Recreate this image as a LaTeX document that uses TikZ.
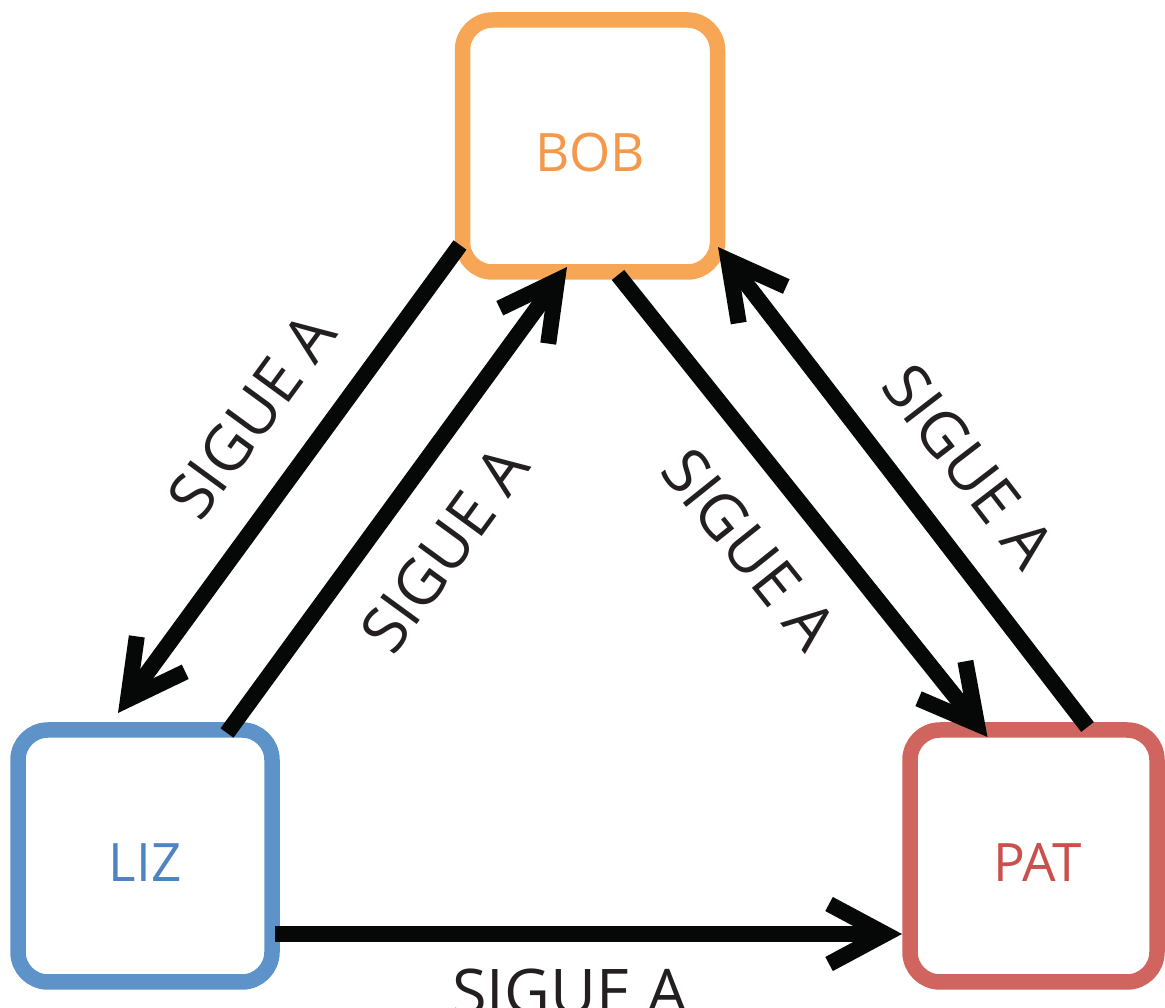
\documentclass[tikz,border=0pt]{standalone}
\usepackage{fontspec}
\setmainfont{Open Sans}
\usetikzlibrary{arrows.meta,calc}
\definecolor{cbob}{HTML}{F7A655}
\definecolor{cbobt}{HTML}{F4994B}
\definecolor{cliz}{HTML}{5E93C9}
\definecolor{clizt}{HTML}{4F83C2}
\definecolor{cpat}{HTML}{D0655F}
\definecolor{cpatt}{HTML}{C9504C}
\definecolor{carrow}{HTML}{060808}
\definecolor{clab}{HTML}{231F20}
\begin{document}
\begin{tikzpicture}[x=1pt,y=1pt,
  box/.style={draw, line width=15.5pt, rounded corners=30pt, minimum height=252pt,
    inner sep=0pt, text height=52pt, text depth=0pt, font=\fontsize{53}{60}\selectfont},
  conn/.style={draw=carrow, line width=16pt,
    -{Straight Barb[length=56pt,width=60pt,line width=16pt]}},
  lab/.style={font=\fontsize{63}{70}\selectfont, inner sep=0pt, text height=45pt,
    text depth=0pt, sloped, text=clab}]
\useasboundingbox (0,0) rectangle (1165,1007);
\node[box, draw=cbob, text=cbobt, minimum width=255pt] (bob) at (590,861) {BOB};
\node[box, draw=cliz, text=clizt, minimum width=254pt] (liz) at (145,151) {LIZ};
\node[box, draw=cpat, text=cpatt, minimum width=247pt] (pat) at (1033.5,151) {\hspace{8pt}PAT};
\draw[conn] ([shift={(-130,-99)}]bob.center) -- node[lab, pos=0.45, above=37pt] {SIGUE A} ([shift={(-27,143)}]liz.center);
\draw[conn] ([shift={(82,123)}]liz.center) -- node[lab, pos=0.48, below=37pt] {SIGUE A} ([shift={(-23,-121)}]bob.center);
\draw[conn] ([shift={(28,-129)}]bob.center) -- node[lab, pos=0.50, below=38pt] {SIGUE A} ([shift={(-46,119)}]pat.center);
\draw[conn] ([shift={(54,129)}]pat.center) -- node[lab, pos=0.46, above=35pt] {SIGUE A} ([shift={(128,-101)}]bob.center);
\draw[conn] ([shift={(130,-78)}]liz.center) -- node[lab, pos=0.47, below=28pt] {SIGUE A} ([shift={(-131.5,-78)}]pat.center);
\end{tikzpicture}
\end{document}
